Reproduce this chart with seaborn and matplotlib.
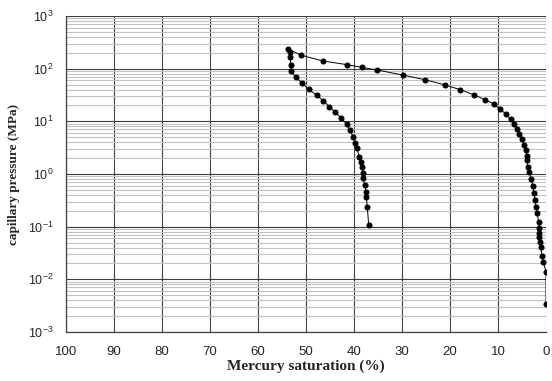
import numpy as np
import pandas as pd
import matplotlib
matplotlib.use("Agg")
import matplotlib.pyplot as plt
import seaborn as sns
from matplotlib.ticker import LogLocator, LogFormatterMathtext, MultipleLocator

# Mercury injection (intrusion), low to high pressure
intrusion_sat = [0.0, 0.0, 0.56, 0.83, 1.1, 1.25, 1.4, 1.46, 1.4, 1.52, 1.88, 2.08,
                 2.3, 2.5, 2.77, 3.06, 3.48, 3.75, 4.02, 4.0, 4.23, 4.58, 5.06,
                 5.56, 6.04, 6.6, 7.35, 8.33, 9.58, 10.83, 12.7, 15.06, 17.85,
                 20.98, 25.2, 29.85, 35.15, 38.4, 41.4, 46.5, 51.0, 53.7]
intrusion_pc = [0.0034, 0.014, 0.021, 0.028, 0.041, 0.052, 0.065, 0.077, 0.093,
                0.124, 0.18, 0.24, 0.32, 0.43, 0.58, 0.79, 1.1, 1.38, 1.85, 2.2,
                2.86, 3.6, 4.56, 5.75, 7.07, 8.8, 10.9, 13.8, 16.9, 21.3, 25.7,
                32.0, 39.8, 49.0, 61.6, 75.8, 94.4, 106, 119, 140, 180, 236]

# Mercury withdrawal (extrusion), high to low pressure
extrusion_sat = [53.7, 53.3, 53.3, 53.2, 53.06, 52.1, 50.77, 49.4, 47.77, 46.4,
                 45.15, 43.9, 42.7, 41.5, 40.8, 40.2, 39.7, 39.4, 38.9, 38.6,
                 38.3, 38.2, 38.06, 37.77, 37.5, 37.44, 37.23, 36.94]
extrusion_pc = [236, 210, 164, 116, 89, 68.5, 52.7, 40.5, 31.2, 24.7, 19.0, 14.8,
                11.6, 8.8, 6.76, 5.1, 3.93, 3.07, 2.13, 1.67, 1.34, 1.06, 0.83,
                0.63, 0.45, 0.37, 0.233, 0.109]

x_ticks = [100, 90, 80, 70, 60, 50, 40, 30, 20, 10, 0]

curve = pd.DataFrame({
    "saturation": intrusion_sat + extrusion_sat[1:],
    "pressure": intrusion_pc + extrusion_pc[1:],
})

sns.set_style("white")
plt.rcParams["font.family"] = ["Liberation Sans", "DejaVu Sans"]

fig = plt.figure(figsize=(5.52, 3.81), dpi=100)
ax = fig.add_axes([66 / 552, 1 - 332 / 381, 480 / 552, 316 / 381])

ax.set_yscale("log")
ax.set_ylim(1e-3, 1e3)
ax.set_xlim(100, 0)

# Grid: light minor lines, darker decade lines
ax.yaxis.set_major_locator(LogLocator(base=10, numticks=10))
ax.yaxis.set_minor_locator(LogLocator(base=10, subs=np.arange(2, 10), numticks=20))
ax.yaxis.set_major_formatter(LogFormatterMathtext())
ax.xaxis.set_major_locator(MultipleLocator(10))
ax.grid(which="minor", axis="y", color="#c2c2c2", lw=0.8)
ax.grid(which="major", axis="y", color="#3c3c3c", lw=0.8)
ax.grid(which="major", axis="x", color="#444444", lw=0.8)
ax.set_axisbelow(True)

sns.lineplot(data=curve, x="saturation", y="pressure", sort=False, estimator=None,
             color="black", lw=0.7, marker="o", markersize=3.6,
             markeredgecolor="black", ax=ax, zorder=3)

ax.set_xticks(x_ticks)
ax.set_xticklabels([str(v) for v in x_ticks])
ax.tick_params(axis="both", which="major", labelsize=9.5, length=3, width=0.8,
               color="#404040", pad=6)
ax.tick_params(axis="y", which="minor", length=2, width=0.6, color="#909090")
ax.tick_params(axis="y", which="major", labelsize=9)
ax.tick_params(axis="x", pad=7)

for side in ["left", "bottom"]:
    ax.spines[side].set_color("#404040")
    ax.spines[side].set_linewidth(0.9)
for side in ["top", "right"]:
    ax.spines[side].set_visible(False)

ax.set_xlabel("Mercury saturation (%)", family=["Liberation Serif", "DejaVu Serif"],
              fontweight="bold", fontsize=11, labelpad=1)
ax.set_ylabel("capillary pressure (MPa)", family=["Liberation Serif", "DejaVu Serif"],
              fontweight="bold", fontsize=9.5, labelpad=6)

fig.savefig("out.png", dpi=100)
